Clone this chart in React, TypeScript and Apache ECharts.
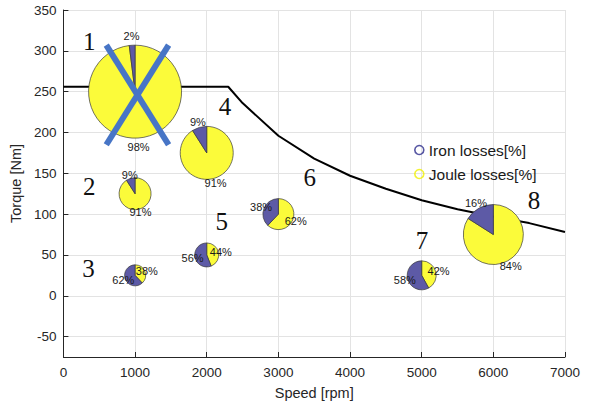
import React, { useEffect, useRef } from "react";
import * as echarts from "echarts";

// Torque envelope
const speedRpm = [0, 2300, 2500, 3000, 3500, 4000, 4500, 5000, 5500, 6000, 6500, 7000];
const torqueNm = [256, 256, 236, 196, 168, 147, 131, 117, 106, 97, 89, 78];

// Operating points (pie charts)
const pieSpeed = [1000, 1000, 1000, 2000, 2000, 3000, 5000, 6000];
const pieTorque = [250, 125, 25, 175, 50, 100, 25, 75];
const ironPct = [2, 9, 62, 9, 56, 38, 58, 16];
const pieRadiusPx = [46.5, 16, 10.5, 26.5, 12, 15.5, 14.5, 30];

// Point number annotations
const pointLabels = ["1", "2", "3", "4", "5", "6", "7", "8"];
const labelSpeed = [362, 362, 350, 2254, 2208, 3437, 5006, 6568];
const labelTorque = [311, 134, 33, 232, 91, 145, 68, 117];

// Blue cross over point 1
const crossA = [[598, 307], [1468, 185]];
const crossB = [[1468, 307], [598, 185]];

const xTicks = [0, 7000, 1000];
const yRange = [-75, 350, 50];

const IRON = "#5d5aa6";
const JOULE = "#fbfb3a";
const SANS = "'Liberation Sans', Arial, Helvetica, sans-serif";
const SERIF = "'Liberation Serif', 'Times New Roman', serif";

export default function App() {
  const ref = useRef<HTMLDivElement>(null);
  useEffect(() => {
    if (!ref.current) return;
    const chart = echarts.init(ref.current, null, { renderer: "svg" });

    const pieData = pieSpeed.map((s, i) => [s, pieTorque[i], pieRadiusPx[i], ironPct[i]]);
    const annData = pointLabels.map((t, i) => [labelSpeed[i], labelTorque[i], t]);

    const renderPie = (_params: any, api: any) => {
      const c = api.coord([api.value(0), api.value(1)]);
      const r = api.value(2);
      const iron = api.value(3);
      const p = iron / 100;
      const top = -Math.PI / 2;
      const ironStart = top - 2 * Math.PI * p;
      const ironMid = top - Math.PI * p;
      const jouleMid = top + Math.PI * (1 - p);
      const lr = 1.2 * r;
      const txt = (t: string, a: number) => ({
        type: "text",
        x: c[0] + lr * Math.cos(a),
        y: c[1] + lr * Math.sin(a),
        z2: 10,
        style: {
          text: t,
          fontSize: 11,
          fontFamily: SANS,
          fill: "#1a1a1a",
          align: "center",
          verticalAlign: "middle",
          textAlign: "center",
          textVerticalAlign: "middle",
        },
      });
      return {
        type: "group",
        children: [
          {
            type: "sector",
            shape: { cx: c[0], cy: c[1], r, r0: 0, startAngle: top, endAngle: ironStart + 2 * Math.PI, clockwise: true },
            style: { fill: JOULE, stroke: "#3a3a3a", lineWidth: 0.7 },
          },
          {
            type: "sector",
            shape: { cx: c[0], cy: c[1], r, r0: 0, startAngle: ironStart, endAngle: top, clockwise: true },
            style: { fill: IRON, stroke: "#3a3a3a", lineWidth: 0.7 },
          },
          txt(`${iron}%`, ironMid),
          txt(`${100 - iron}%`, jouleMid),
        ],
      };
    };

    const renderAnn = (_params: any, api: any) => {
      const c = api.coord([api.value(0), api.value(1)]);
      return {
        type: "text",
        x: c[0],
        y: c[1],
        style: {
          text: String(pointLabels[_params.dataIndex]),
          fontSize: 25,
          fontFamily: SERIF,
          fill: "#111",
          align: "center",
          verticalAlign: "middle",
          textAlign: "center",
          textVerticalAlign: "middle",
        },
      };
    };

    chart.setOption({
      animation: false,
      backgroundColor: "#ffffff",
      grid: { left: 62, right: 30, top: 10, bottom: 48, containLabel: false },
      legend: {
        orient: "vertical",
        left: 414,
        top: 142,
        padding: 0,
        itemWidth: 9,
        itemHeight: 11,
        itemGap: 8,
        textStyle: { fontSize: 15.5, fontFamily: SANS, color: "#1a1a1a" },
        data: [
          { name: "Iron losses[%]", icon: "circle", itemStyle: { color: "rgba(255,255,255,0)", borderColor: "#2d2d8c", borderWidth: 1.6 } },
          { name: "Joule losses[%]", icon: "circle", itemStyle: { color: "rgba(255,255,255,0)", borderColor: "#f0f000", borderWidth: 1.6 } },
        ],
      },
      xAxis: {
        type: "value",
        min: xTicks[0],
        max: xTicks[1],
        interval: xTicks[2],
        name: "Speed [rpm]",
        nameLocation: "middle",
        nameGap: 28,
        nameTextStyle: { fontSize: 14.5, fontFamily: SANS, color: "#262626" },
        axisLine: { show: true, onZero: false, lineStyle: { color: "#262626", width: 1 } },
        axisTick: { show: true, inside: true, length: 5, lineStyle: { color: "#262626" } },
        axisLabel: { fontSize: 13.5, fontFamily: SANS, color: "#262626", margin: 8, formatter: (v: number) => String(v) },
        splitLine: { show: true, lineStyle: { color: "#e3e3e3", width: 1 } },
      },
      yAxis: {
        type: "value",
        min: yRange[0],
        max: yRange[1],
        minInterval: yRange[2],
        maxInterval: yRange[2],
        splitNumber: 8,
        name: "Torque [Nm]",
        nameLocation: "middle",
        nameGap: 33,
        nameTextStyle: { fontSize: 14.5, fontFamily: SANS, color: "#262626" },
        axisLine: { show: true, onZero: false, lineStyle: { color: "#262626", width: 1 } },
        axisTick: { show: true, inside: true, length: 5, lineStyle: { color: "#262626" } },
        axisLabel: {
          fontSize: 13.5,
          fontFamily: SANS,
          color: "#262626",
          margin: 7,
          showMinLabel: false,
          formatter: (v: number) => (v % 50 === 0 ? String(v) : ""),
        },
        splitLine: { show: true, lineStyle: { color: "#e3e3e3", width: 1 } },
      },
      series: [
        { name: "Iron losses[%]", type: "scatter", data: [], itemStyle: { color: "#2d2d8c" } },
        { name: "Joule losses[%]", type: "scatter", data: [], itemStyle: { color: "#f0f000" } },
        {
          name: "torque",
          type: "line",
          data: speedRpm.map((s, i) => [s, torqueNm[i]]),
          symbol: "none",
          lineStyle: { color: "#000", width: 2 },
          z: 2,
        },
        {
          name: "pies",
          type: "custom",
          data: pieData,
          renderItem: renderPie,
          encode: { x: 0, y: 1 },
          clip: false,
          z: 5,
        },
        {
          name: "cross1",
          type: "line",
          data: crossA,
          symbol: "none",
          lineStyle: { color: "#4775c6", width: 6, cap: "butt" },
          z: 8,
        },
        {
          name: "cross2",
          type: "line",
          data: crossB,
          symbol: "none",
          lineStyle: { color: "#4775c6", width: 6, cap: "butt" },
          z: 8,
        },
        {
          name: "numbers",
          type: "custom",
          data: annData,
          renderItem: renderAnn,
          encode: { x: 0, y: 1 },
          clip: false,
          z: 9,
        },
      ],
    });
    return () => chart.dispose();
  }, []);
  return <div ref={ref} style={{ width: 595, height: 405, position: "absolute", left: 0, top: 0 }} />;
}
